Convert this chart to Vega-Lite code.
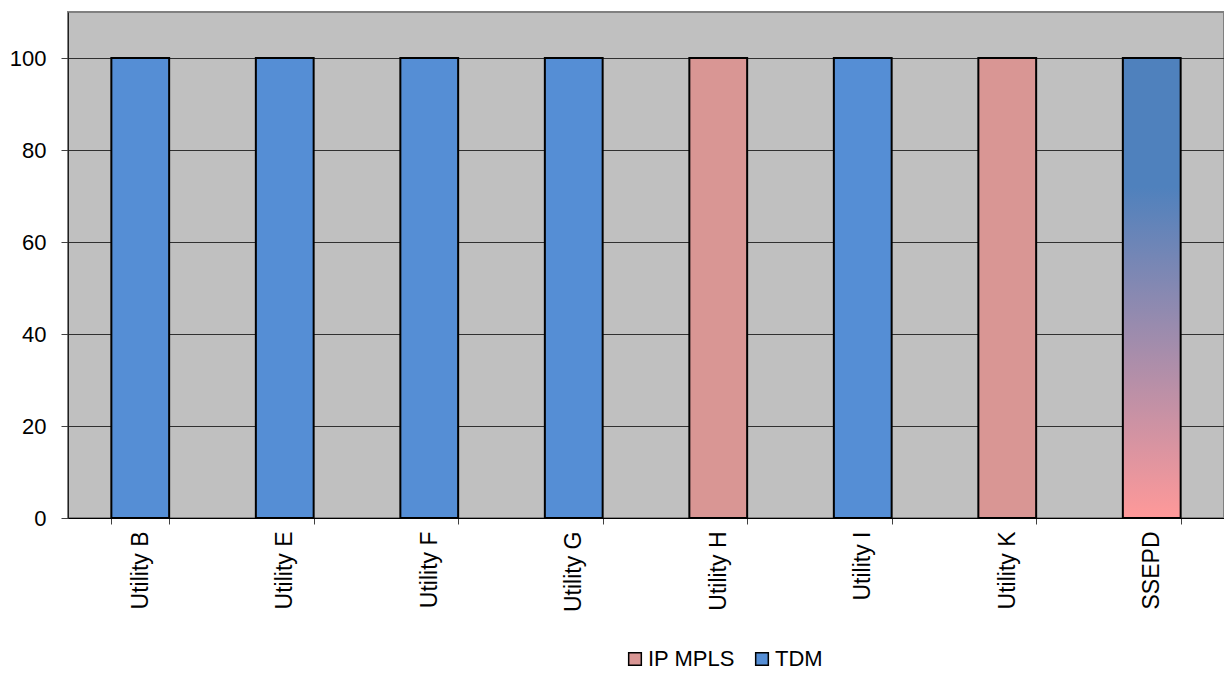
{
  "$schema": "https://vega.github.io/schema/vega-lite/v6.json",
  "width": 1156,
  "height": 506,
  "autosize": {"type": "none"},
  "padding": {"left": 68, "top": 12, "right": 0, "bottom": 155},
  "background": "white",
  "config": {
    "font": "Liberation Sans",
    "view": {"fill": "#C0C0C0", "stroke": "#808080", "strokeWidth": 2}
  },
  "data": {
    "values": [
      {"utility": "Utility B", "share": 100, "technology": "TDM"},
      {"utility": "Utility E", "share": 100, "technology": "TDM"},
      {"utility": "Utility F", "share": 100, "technology": "TDM"},
      {"utility": "Utility G", "share": 100, "technology": "TDM"},
      {"utility": "Utility H", "share": 100, "technology": "IP MPLS"},
      {"utility": "Utility I", "share": 100, "technology": "TDM"},
      {"utility": "Utility K", "share": 100, "technology": "IP MPLS"},
      {"utility": "SSEPD", "share": 100, "technology": "IP MPLS + TDM"}
    ]
  },
  "encoding": {
    "x": {
      "field": "utility",
      "type": "nominal",
      "sort": null,
      "scale": {"paddingInner": 0.6, "paddingOuter": 0.3},
      "axis": {
        "title": null,
        "labelAngle": -90,
        "labelAlign": "right",
        "labelBaseline": "middle",
        "labelFontSize": 23,
        "labelColor": "#000000",
        "labelPadding": 7,
        "tickBand": "extent",
        "tickSize": 6,
        "tickColor": "#404040",
        "domainColor": "#000000",
        "domainWidth": 1
      }
    },
    "y": {
      "field": "share",
      "type": "quantitative",
      "scale": {"domain": [0, 110], "nice": false},
      "axis": {
        "title": null,
        "values": [0, 20, 40, 60, 80, 100],
        "labelFontSize": 22,
        "labelColor": "#000000",
        "labelPadding": 15,
        "tickSize": 7,
        "tickColor": "#404040",
        "domainColor": "#202020",
        "gridColor": "#303030",
        "gridWidth": 1
      }
    }
  },
  "layer": [
    {
      "transform": [{"filter": "datum.technology !== 'IP MPLS + TDM'"}],
      "mark": {"type": "bar", "stroke": "#000000", "strokeWidth": 2},
      "encoding": {
        "color": {
          "field": "technology",
          "type": "nominal",
          "scale": {"domain": ["IP MPLS", "TDM"], "range": ["#D99694", "#558ED5"]},
          "legend": {
            "title": null,
            "orient": "none",
            "direction": "horizontal",
            "legendX": 556,
            "legendY": 636,
            "symbolType": "square",
            "symbolSize": 160,
            "symbolStrokeColor": "#000000",
            "symbolStrokeWidth": 1.5,
            "labelFontSize": 22,
            "labelColor": "#000000",
            "labelOffset": 2,
            "columnPadding": 16
          }
        }
      }
    },
    {
      "transform": [{"filter": "datum.technology === 'IP MPLS + TDM'"}],
      "mark": {
        "type": "bar",
        "stroke": "#000000",
        "strokeWidth": 2,
        "fill": {
          "gradient": "linear",
          "x1": 0, "y1": 1, "x2": 0, "y2": 0,
          "stops": [
            {"offset": 0, "color": "#FF9999"},
            {"offset": 0.72, "color": "#4F81BD"},
            {"offset": 1, "color": "#4F81BD"}
          ]
        }
      }
    }
  ]
}
